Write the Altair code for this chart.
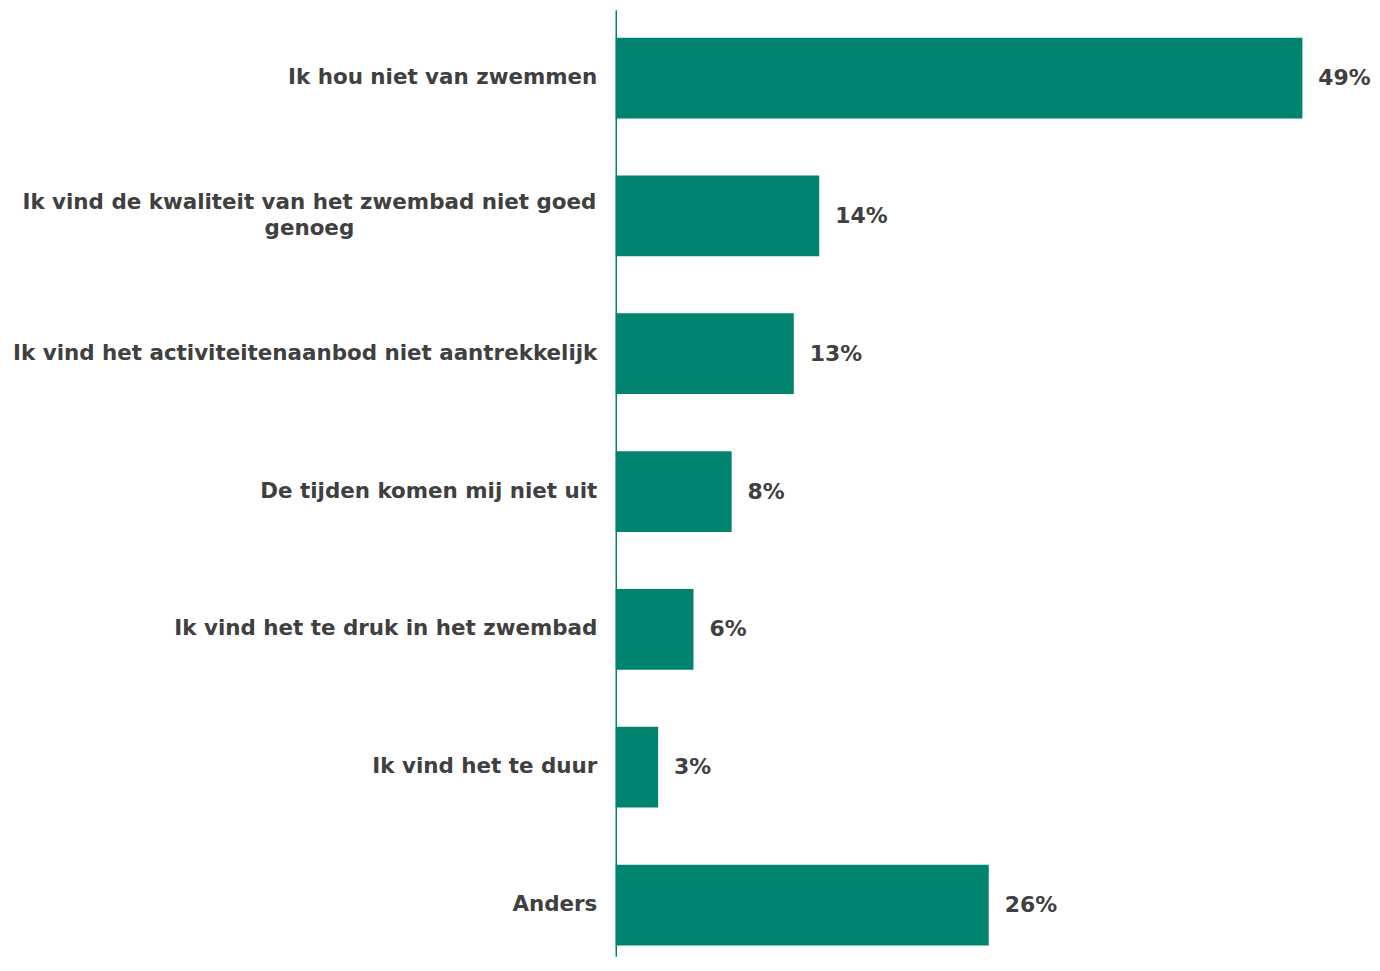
import altair as alt
import pandas as pd

categories = [
    "Ik hou niet van zwemmen",
    "Ik vind de kwaliteit van het zwembad niet goed\ngenoeg",
    "Ik vind het activiteitenaanbod niet aantrekkelijk",
    "De tijden komen mij niet uit",
    "Ik vind het te druk in het zwembad",
    "Ik vind het te duur",
    "Anders",
]
values = [48.6, 14.4, 12.6, 8.2, 5.5, 3.0, 26.4]
value_labels = ["49%", "14%", "13%", "8%", "6%", "3%", "26%"]

df = pd.DataFrame({"cat": categories, "value": values, "label": value_labels})

TEAL = "#00846F"
TXT = "#404040"
FONT = "DejaVu Sans"
MULTI = "indexof(datum.value, '\\n') >= 0"

y_enc = alt.Y(
    "cat:N",
    sort=categories,
    title=None,
    scale=alt.Scale(paddingInner=0.4145, paddingOuter=0.141, align=0.72),
    axis=alt.Axis(
        ticks=False,
        domain=True,
        domainColor=TEAL,
        domainWidth=1.5,
        labelPadding={"condition": {"test": MULTI, "value": 308}, "value": 19},
        labelAlign={"condition": {"test": MULTI, "value": "center"}, "value": "right"},
        labelOffset={"condition": {"test": MULTI, "value": -13}, "value": 0},
        labelLimit=800,
        labelFont=FONT,
        labelFontSize=21.5,
        labelFontWeight="bold",
        labelColor=TXT,
        labelLineHeight=26,
        labelExpr="split(datum.label, '\\n')",
        grid=False,
    ),
)

x_enc = alt.X(
    "value:Q",
    title=None,
    scale=alt.Scale(domain=[0, 50], nice=False),
    axis=None,
)

bars = alt.Chart(df).mark_bar(color=TEAL).encode(x=x_enc, y=y_enc)

texts = alt.Chart(df).mark_text(
    align="left",
    baseline="middle",
    dx=16,
    font=FONT,
    fontSize=22,
    fontWeight="bold",
    color=TXT,
).encode(x=x_enc, y=alt.Y("cat:N", sort=categories), text="label:N")

chart = (
    alt.layer(bars, texts)
    .properties(
        width=709,
        height=950,
        autosize=alt.AutoSizeParams(type="none"),
        padding={"left": 610, "top": 0, "right": 50, "bottom": 0},
    )
    .configure_view(stroke=None)
)

chart.save("out.html", embed_options={"renderer": "svg", "actions": False})
